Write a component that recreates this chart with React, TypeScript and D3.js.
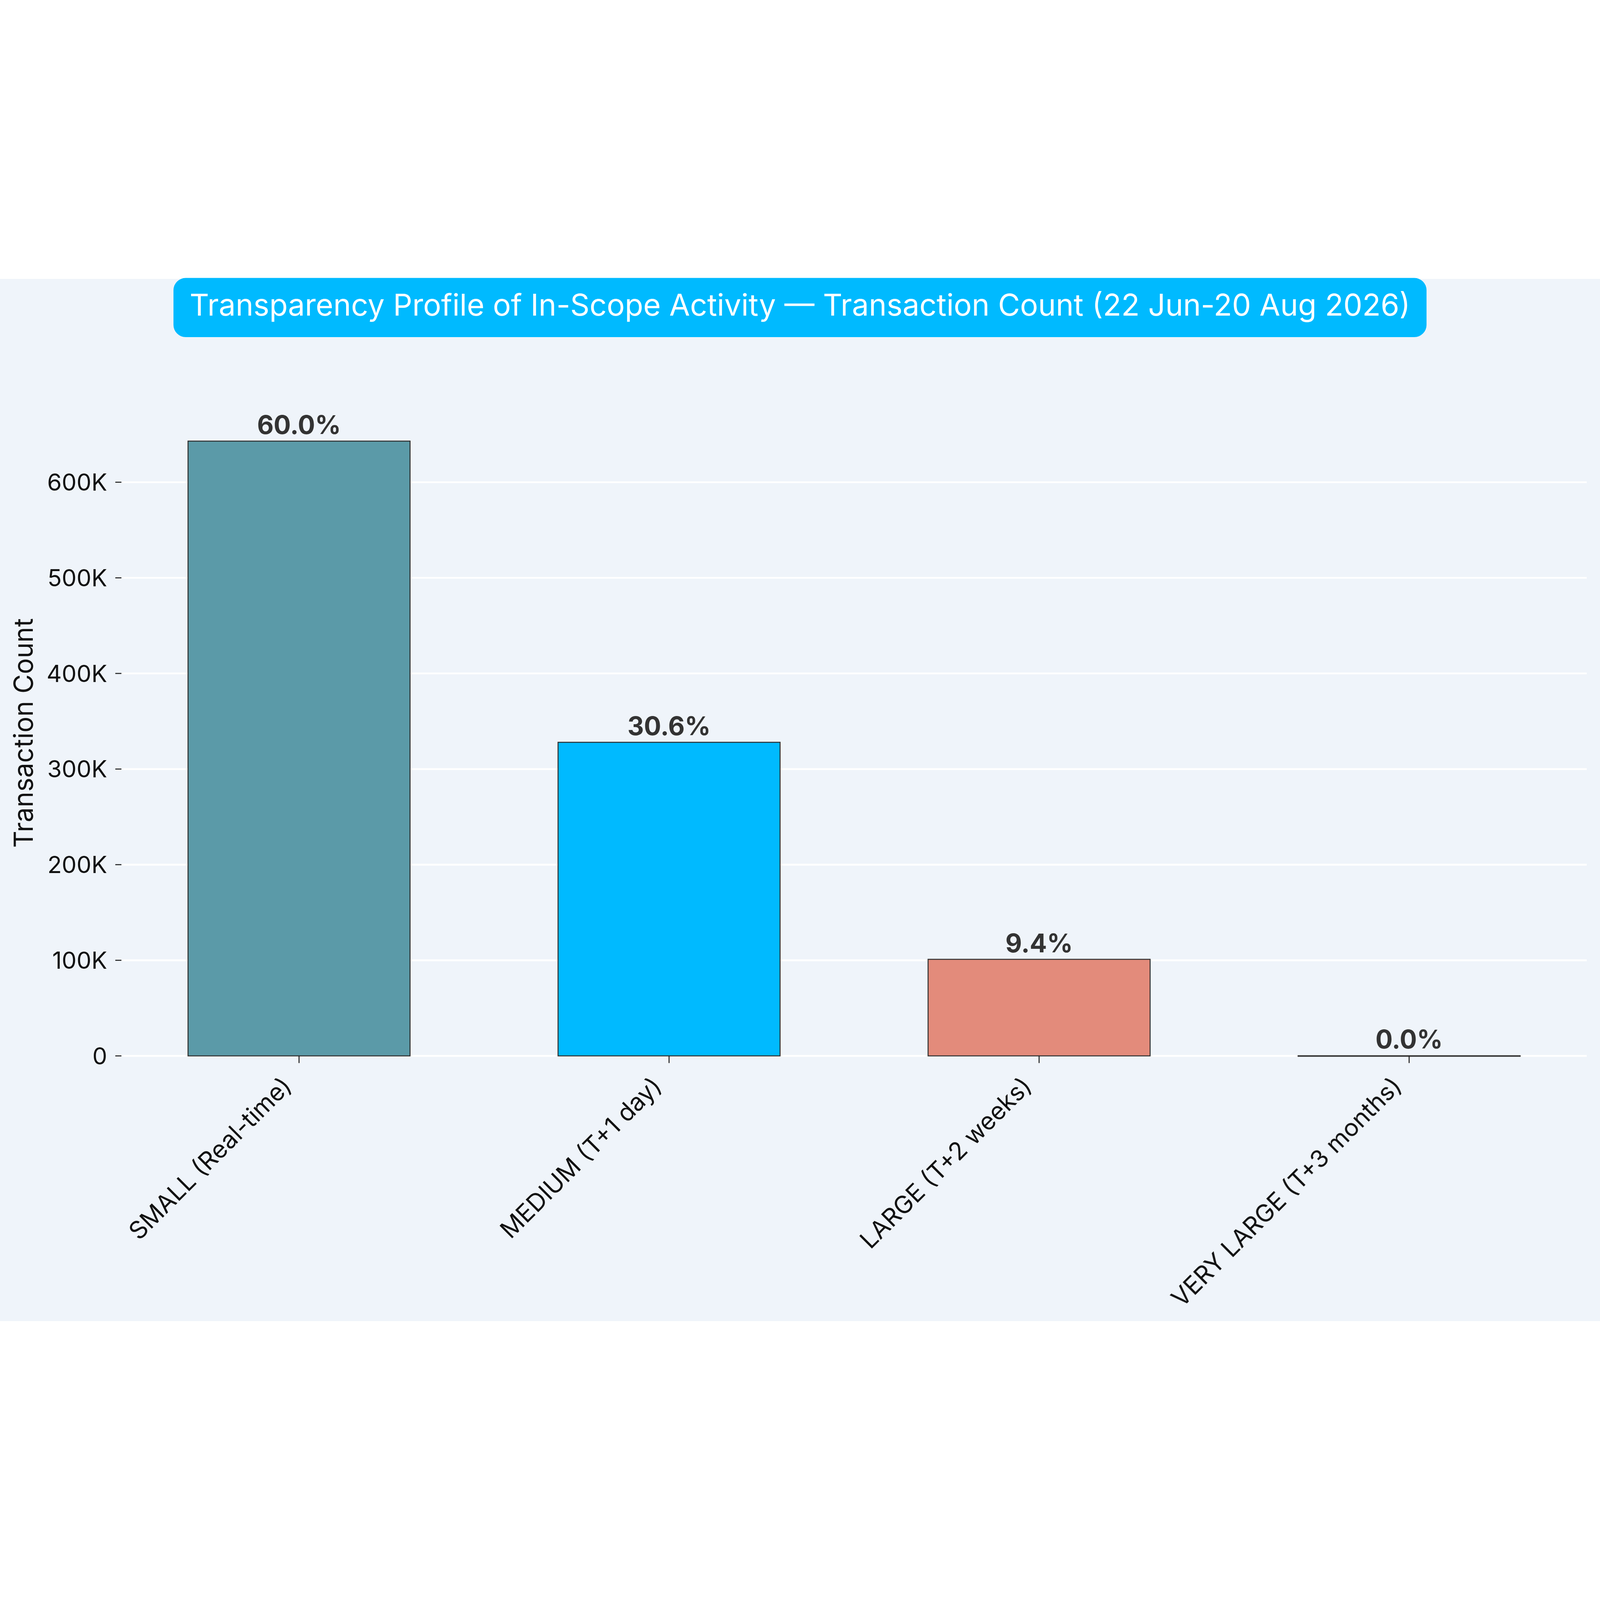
import React from 'react';
import * as d3 from 'd3';

const categories = ['SMALL (Real-time)', 'MEDIUM (T+1 day)', 'LARGE (T+2 weeks)', 'VERY LARGE (T+3 months)'];
const counts = [643000, 328000, 101000, 150];
const barColors = ['#5B9AA8', '#00BAFF', '#E38B7B', '#9AA5B1'];
const yTicks = [0, 100000, 200000, 300000, 400000, 500000, 600000];
const title = 'Transparency Profile of In-Scope Activity \u2014 Transaction Count (22 Jun-20 Aug 2026)';
const yLabel = 'Transaction Count';

const W = 1568;
const H = 1021.25;
const font = "Inter, 'DejaVu Sans', sans-serif";

const App: React.FC = () => {
  const left = 119;
  const right = 1555;
  const bottom = 761.4;

  const x = d3.scaleBand<string>()
    .domain(categories)
    .range([left, right])
    .paddingInner(0.4)
    .paddingOuter(0.18);

  const y = d3.scaleLinear()
    .domain([0, 700000])
    .range([bottom, bottom - 7 * 93.7]);

  const total = d3.sum(counts);
  const pct = d3.format('.1%');
  const tickFmt = (v: number) => (v === 0 ? '0' : `${v / 1000}K`);

  return (
    <svg
      viewBox={`0 0 ${W} ${H}`}
      style={{ position: 'fixed', left: 0, top: 0, width: '100vw', height: '100vh', display: 'block' }}
      fontFamily={font}
    >
      <rect x={0} y={0} width={W} height={H} fill="#EFF4FA" />

      {/* title box */}
      <rect x={170} y={-1} width={1228} height={58} rx={12} fill="#00BAFF" />
      <text x={W / 2} y={36} textAnchor="middle" fill="#fff" fontSize={29.5}>{title}</text>

      {/* grid */}
      {yTicks.map(t => (
        <line key={t} x1={left} x2={right} y1={y(t)} y2={y(t)} stroke="#fff" strokeWidth={1.8} />
      ))}

      {/* y axis */}
      {yTicks.map(t => (
        <g key={'yt' + t} transform={`translate(0,${y(t)})`}>
          <line x1={113} x2={119} stroke="#222" strokeWidth={1} />
          <text x={105} dy="0.36em" textAnchor="end" fontSize={23} fill="#111">{tickFmt(t)}</text>
        </g>
      ))}
      <text transform={`translate(32,445) rotate(-90)`} textAnchor="middle" fontSize={26} fill="#111">{yLabel}</text>

      {/* bars */}
      {categories.map((c, i) => (
        <rect
          key={c}
          x={x(c)!}
          y={y(counts[i])}
          width={x.bandwidth()}
          height={Math.max(0.5, bottom - y(counts[i]))}
          fill={barColors[i]}
          stroke="#333"
          strokeWidth={1}
        />
      ))}

      {/* share labels */}
      {categories.map((c, i) => (
        <text
          key={'v' + c}
          x={x(c)! + x.bandwidth() / 2}
          y={y(counts[i]) - 7}
          textAnchor="middle"
          fontSize={25}
          fontWeight={700}
          fill="#333"
        >
          {pct(counts[i] / total)}
        </text>
      ))}

      {/* x axis */}
      {categories.map(c => {
        const cx = x(c)! + x.bandwidth() / 2;
        return (
          <g key={'xt' + c}>
            <line x1={cx} x2={cx} y1={bottom} y2={bottom + 7} stroke="#222" strokeWidth={1} />
            <text transform={`translate(${cx - 6},${bottom + 31}) rotate(-45)`} textAnchor="end" fontSize={24} fill="#111">{c}</text>
          </g>
        );
      })}
    </svg>
  );
};

export default App;
